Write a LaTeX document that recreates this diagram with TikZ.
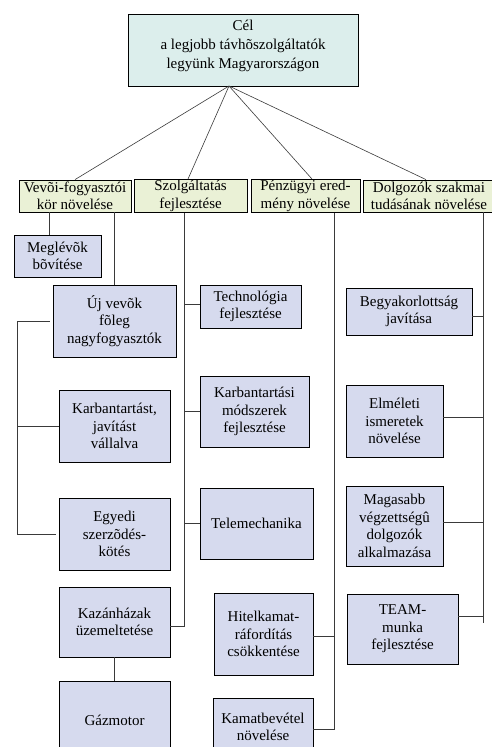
\documentclass[tikz,border=0pt]{standalone}
\usepackage{fontspec}
\setmainfont{Liberation Serif}
\newfontfamily\chartfont{Liberation Serif}
\usetikzlibrary{positioning, calc}
\definecolor{goalCyan}{HTML}{DCEEEC}
\definecolor{aimGreen}{HTML}{EAF1D6}
\definecolor{taskBlue}{HTML}{D6DAEE}
\definecolor{linkGray}{HTML}{3A3A3A}

\begin{document}
\begin{tikzpicture}[x=1pt, y=-1pt, font=\chartfont\fontsize{15}{17.5}\selectfont,
    goalbox/.style={draw, thick, fill=goalCyan, align=center, inner sep=1pt},
    aimbox/.style={draw, thick, fill=aimGreen, align=center, inner sep=1pt, minimum height=32pt},
    taskbox/.style={draw, thick, fill=taskBlue, align=center, inner sep=1pt},
    link/.style={draw=linkGray, semithick}]
    \useasboundingbox (0,0) rectangle (492,747);

    % goal
    \node[goalbox, minimum width=230pt, minimum height=72pt, text depth=12pt,
          font=\chartfont\fontsize{15}{19}\selectfont] (cel) at (243,50)
        {Cél\\a legjobb távhõszolgáltatók\\legyünk Magyarországon};

    % main aims
    \node[aimbox, minimum width=112pt] (vevo)  at (75,196)    {Vevõi-fogyasztói\\kör növelése};
    \node[aimbox, minimum width=113pt] (szolg) at (190.5,196) {Szolgáltatás\\fejlesztése};
    \node[aimbox, minimum width=109pt] (penz)  at (305.5,196) {Pénzügyi ered-\\mény növelése};
    \node[aimbox, minimum width=132pt] (dolg)  at (429,196)   {Dolgozók szakmai\\tudásának növelése};

    % customers
    \node[taskbox, minimum width=87pt,  minimum height=42pt] (meglevo)  at (57.5,256)  {Meglévõk\\bõvítése};
    \node[taskbox, minimum width=123pt, minimum height=72pt] (ujvevo)   at (114.5,321) {Új vevõk\\fõleg\\nagyfogyasztók};
    \node[taskbox, minimum width=111pt, minimum height=72pt] (karbvall) at (114.5,426) {Karbantartást,\\javítást\\vállalva};
    \node[taskbox, minimum width=111pt, minimum height=72pt] (egyedi)   at (114.5,534) {Egyedi\\szerzõdés-\\kötés};
    \node[taskbox, minimum width=111pt, minimum height=70pt] (kazan)    at (114.5,622) {Kazánházak\\üzemeltetése};
    \node[taskbox, minimum width=111pt, minimum height=78pt] (gazmotor) at (114.5,720) {Gázmotor};

    % service
    \node[taskbox, minimum width=101pt, minimum height=43pt] (techn)    at (250.5,306.5) {Technológia\\fejlesztése};
    \node[taskbox, minimum width=109pt, minimum height=71pt] (karbmod)  at (254.5,411.5) {Karbantartási\\módszerek\\fejlesztése};
    \node[taskbox, minimum width=113pt, minimum height=71pt] (telemech) at (256.5,523.5) {Telemechanika};

    % finance
    \node[taskbox, minimum width=99pt,  minimum height=82pt] (hitel) at (263.5,634) {Hitelkamat-\\ráfordítás\\csökkentése};
    \node[taskbox, minimum width=100pt, minimum height=58pt] (kamat) at (263,727)   {Kamatbevétel\\növelése};

    % staff
    \node[taskbox, minimum width=126pt, minimum height=47pt] (begyak)   at (409,311.5) {Begyakorlottság\\javítása};
    \node[taskbox, minimum width=97pt,  minimum height=72pt] (elmelet)  at (394.5,421) {Elméleti\\ismeretek\\növelése};
    \node[taskbox, minimum width=97pt,  minimum height=80pt] (magasabb) at (394.5,526) {Magasabb\\végzettségû\\dolgozók\\alkalmazása};
    \node[taskbox, minimum width=111pt, minimum height=70pt] (team)     at (402.5,629) {TEAM-\\munka\\fejlesztése};

    % trunks
    \coordinate (apex) at (229,86);
    \coordinate (ltrunk) at (17,0);
    \coordinate (strunk) at (184,0);
    \coordinate (ptrunk) at (334,0);
    \coordinate (dtrunk) at (483,0);
    \coordinate (dend) at (483,623);

    \draw[link] (apex) -- (vevo.north);
    \draw[link] (apex) -- ([xshift=-2.5pt]szolg.north);
    \draw[link] (apex) -- ([xshift=6.5pt]penz.north);
    \draw[link] (apex) -- ([xshift=-3pt]dolg.north);

    \draw[link] ([xshift=-8.5pt]meglevo.north) -- ([xshift=-8.5pt]meglevo.north |- vevo.south);
    \draw[link] (ujvevo.north) -- (ujvevo.north |- vevo.south);
    \draw[link] ([xshift=-3pt]ujvevo.west) -- (ujvevo.west -| ltrunk) -- (egyedi.west -| ltrunk) -- ([xshift=-3pt]egyedi.west);
    \draw[link] (karbvall.west -| ltrunk) -- (karbvall.west);
    \draw[link] (kazan.south) -- (gazmotor.north);

    \draw[link] (szolg.south -| strunk) -- ([yshift=-4pt]kazan.east -| strunk) -- ([yshift=-4pt]kazan.east);
    \draw[link] ([yshift=2.5pt]techn.west -| strunk) -- ([yshift=2.5pt]techn.west);
    \draw[link] (karbmod.west -| strunk) -- (karbmod.west);
    \draw[link] (telemech.west -| strunk) -- (telemech.west);

    \draw[link] (penz.south -| ptrunk) -- ([yshift=-2pt]kamat.east -| ptrunk) -- ([yshift=-2pt]kamat.east);
    \draw[link] ([yshift=-2pt]hitel.east) -- ([yshift=-2pt]hitel.east -| ptrunk);

    \draw[link] (dolg.south -| dtrunk) -- (dend);
    \draw[link] ([yshift=-4.5pt]begyak.east) -- ([yshift=-4.5pt]begyak.east -| dtrunk);
    \draw[link] ([yshift=4pt]elmelet.east) -- ([yshift=4pt]elmelet.east -| dtrunk);
    \draw[link] ([yshift=4pt]magasabb.east) -- ([yshift=4pt]magasabb.east -| dtrunk);
    \draw[link] ([yshift=13pt]team.east) -- ([yshift=13pt]team.east -| dtrunk);
\end{tikzpicture}
\end{document}
